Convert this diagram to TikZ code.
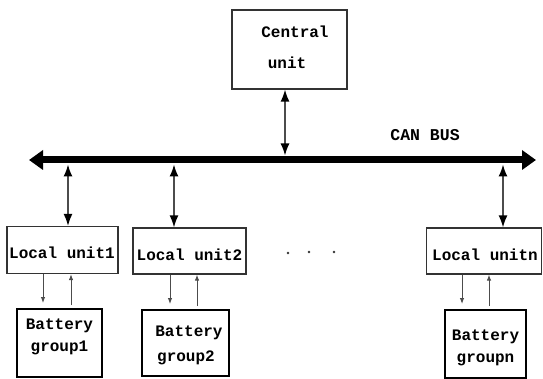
\documentclass[tikz,border=0pt]{standalone}
\usepackage{fontspec}
\setmainfont{Liberation Mono}
\usetikzlibrary{arrows.meta}
\begin{document}
\begin{tikzpicture}[x=1pt,y=-1pt,
  box/.style={draw=black!80, line width=1.2pt},
  bbox/.style={draw=black, line width=1.8pt},
  txt/.style={inner sep=0pt, font=\fontsize{16}{16}\selectfont\bfseries, text=black},
  dbl/.style={draw=black!70, line width=1.5pt, {Latex[length=12pt,width=9pt,fill=black,color=black]}-{Latex[length=12pt,width=9pt,fill=black,color=black]}},
  sgl/.style={draw=black!70, line width=1pt, -{Latex[length=6pt,width=4.5pt]}},
  bus/.style={draw=black, line width=7pt, {Triangle[length=14pt,width=19pt]}-{Triangle[length=14pt,width=19pt]}}
]
\useasboundingbox (0,0) rectangle (543,379);
% central unit
\node[box, minimum width=115pt, minimum height=79pt, inner sep=0pt] (cen) at (289.5,49.5) {};
\node[txt] (cenA) at (295,32) {Central};
\node[txt] (cenB) at (287,63) {unit};
% bus
\coordinate (busL) at (29,160);
\coordinate (busR) at (536,160);
\draw[bus] (busL) -- (busR);
\node[txt, font=\fontsize{16.5}{16.5}\selectfont\bfseries] (canbus) at (425,135) {CAN BUS};
\coordinate (cb) at (285,155.5);
\draw[dbl] (cen.south -| cb) -- (cb);
% local units
\node[box, minimum width=111pt, minimum height=47pt, inner sep=0pt] (l1) at (62.5,250) {};
\node[txt] (l1t) at (62,253) {Local unit1};
\node[box, minimum width=113pt, minimum height=46pt, inner sep=0pt] (l2) at (189.5,251) {};
\node[txt] (l2t) at (189.5,255) {Local unit2};
\node[box, minimum width=115pt, minimum height=46pt, inner sep=0pt] (ln) at (484,251) {};
\node[txt] (lnt) at (485,255) {Local unitn};
% dots
\fill[black!80] (288,253) circle (1.3pt) (309,252) circle (1.3pt) (334,252) circle (1.3pt);
\node[inner sep=0pt] (dots) at (311,252) {};
% bus to local arrows
\coordinate (b1) at (68,164.5);
\coordinate (b2) at (174,164.5);
\coordinate (bn) at (503,164.5);
\draw[dbl] (b1) -- (l1.north -| b1);
\draw[dbl] (b2) -- (l2.north -| b2);
\draw[dbl] (bn) -- (ln.north -| bn);
% battery groups
\node[bbox, minimum width=85pt, minimum height=68pt, inner sep=0pt] (g1) at (59.5,343) {};
\node[txt] (g1a) at (59.5,326) {Battery};
\node[txt] (g1b) at (59.5,348) {group1};
\node[bbox, minimum width=87pt, minimum height=66pt, inner sep=0pt] (g2) at (185.5,343) {};
\node[txt] (g2a) at (189,333) {Battery};
\node[txt] (g2b) at (186,358) {group2};
\node[bbox, minimum width=81pt, minimum height=68pt, inner sep=0pt] (gn) at (485.5,344) {};
\node[txt] (gna) at (485.5,337) {Battery};
\node[txt] (gnb) at (485.5,360) {groupn};
% local to battery arrows
\draw[sgl] (l1.south -| 43,0) -- (43,303);
\draw[sgl] (71,305) -- (l1.south -| 71,0);
\draw[sgl] (l2.south -| 170,0) -- (170,304);
\draw[sgl] (197,306) -- (l2.south -| 197,0);
\draw[sgl] (ln.south -| 462,0) -- (462,304);
\draw[sgl] (489,306) -- (ln.south -| 489,0);
\end{tikzpicture}
\end{document}
